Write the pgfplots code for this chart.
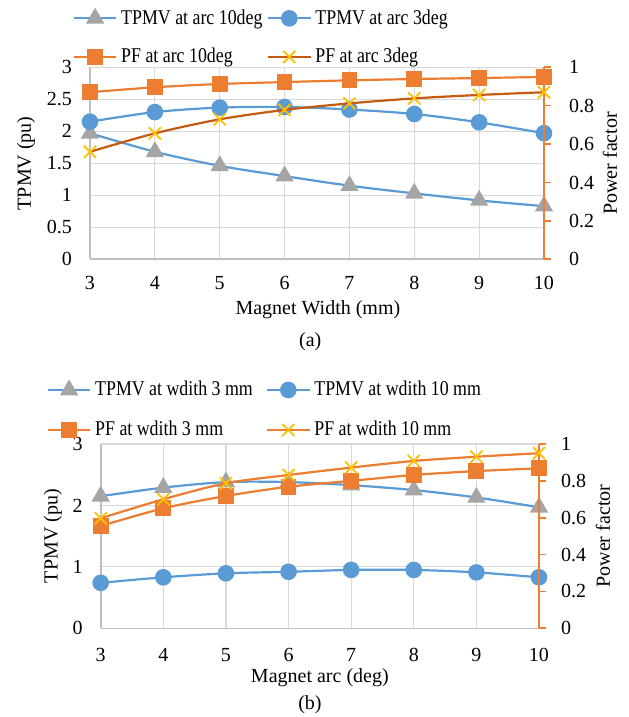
\documentclass[border=0pt]{standalone}
\usepackage{fontspec}
\setmainfont{Liberation Serif}
\newfontfamily\legfont{Liberation Serif}[FakeStretch=0.85]
\usepackage{pgfplots}
\pgfplotsset{compat=1.18}

\definecolor{xblue}{RGB}{91,155,213}
\definecolor{xorange}{RGB}{237,125,49}
\definecolor{xdkorange}{RGB}{197,90,17}
\definecolor{xgray}{RGB}{165,165,165}
\definecolor{xyellow}{RGB}{255,192,0}
\definecolor{gridc}{RGB}{217,217,217}
\definecolor{axc}{RGB}{191,191,191}

\pgfplotsset{
  base/.style={
    scale only axis, xmin=3, xmax=10, xtick={3,...,10},
    clip mode=individual,
    /pgf/number format/assume math mode=true,
    legend cell align=left,
    legend image code/.code={\draw[mark repeat=2,mark phase=2]
      plot coordinates {(0pt,0pt) (10.5pt,0pt) (21pt,0pt)};},
    legend style={draw=none, fill=none, legend columns=2, inner sep=0pt,
      outer sep=0pt, anchor=west, font=\legfont\fontsize{10.5}{12}\selectfont,
      nodes={inner sep=2pt}},
  },
  leftax/.style={base,
    axis lines*=left, axis line style={axc, line width=0.8pt, -},
    xmajorgrids, ymajorgrids, grid style={gridc, line width=0.6pt},
    major tick length=0pt,
    ymin=0, ymax=3,
    ylabel={TPMV (pu)},
  },
  rightax/.style={base,
    axis y line*=right, axis x line=none,
    y axis line style={xorange, line width=0.9pt, -},
    ytick style={xorange, line width=0.8pt}, tick align=outside,
    major tick length=3.5pt,
    ymin=0, ymax=1, ytick={0,0.2,...,1},
    ylabel={Power factor},
  },
  tpmv/.style={xblue, line width=1.1pt, smooth},
  pf/.style={xorange, line width=1.1pt, smooth},
}

\begin{document}
\begin{tikzpicture}
\useasboundingbox (0,0) rectangle (314pt,358.5pt);

% (a)
\begin{axis}[leftax, at={(45pt,228.85pt)}, anchor=south west,
  width=227pt, height=96pt, ytick={0,0.5,...,3},
  xticklabel style={yshift=-5pt}, yticklabel style={xshift=-5.5pt},
  xlabel={Magnet Width (mm)},
  xlabel style={at={(axis description cs:0.502,-0.264)}, anchor=center},
  ylabel style={at={(axis description cs:-0.141,0.5)}, rotate=0, anchor=center},
  legend style={at={(-0.0374,1.255)}}]
\addplot[tpmv, mark=triangle*, mark size=4.2pt, mark options={xgray, fill=xgray}]
  coordinates {(3,1.97)(4,1.68)(5,1.46)(6,1.30)(7,1.15)(8,1.03)(9,0.92)(10,0.83)};
\addlegendentry{\makebox[71pt][l]{TPMV at arc 10deg}}
\addplot[tpmv, mark=*, mark size=3.6pt, mark options={xblue, fill=xblue}]
  coordinates {(3,2.15)(4,2.30)(5,2.37)(6,2.38)(7,2.34)(8,2.27)(9,2.14)(10,1.97)};
\addlegendentry{TPMV at arc 3deg}
\node at (axis description cs:0.485,-0.431) {(a)};
\end{axis}
\begin{axis}[rightax, at={(45pt,228.85pt)}, anchor=south west,
  width=227pt, height=96pt,
  yticklabel style={xshift=5.5pt},
  ylabel style={at={(axis description cs:1.145,0.5)}, rotate=0, anchor=center},
  legend style={at={(-0.0374,1.054)}}]
\addplot[pf, mark=square*, mark size=3.4pt, mark options={xorange, fill=xorange}]
  coordinates {(3,0.87)(4,0.896)(5,0.913)(6,0.923)(7,0.932)(8,0.939)(9,0.944)(10,0.95)};
\addlegendentry{\makebox[71pt][l]{PF at arc 10deg}}
\addplot[pf, xdkorange, mark=x, mark size=4.3pt, mark options={xyellow, line width=0.9pt}]
  coordinates {(3,0.56)(4,0.656)(5,0.729)(6,0.778)(7,0.812)(8,0.838)(9,0.856)(10,0.87)};
\addlegendentry{PF at arc 3deg}
\end{axis}

% (b)
\begin{axis}[leftax, at={(50.35pt,44.35pt)}, anchor=south west,
  width=219.15pt, height=92.15pt, ytick={0,1,2,3},
  xticklabel style={yshift=-6.5pt}, yticklabel style={xshift=-5.5pt},
  xlabel={Magnet arc (deg)},
  xlabel style={at={(axis description cs:0.5,-0.270)}, anchor=center},
  ylabel style={at={(axis description cs:-0.109,0.5)}, rotate=0, anchor=center},
  legend style={at={(-0.1225,1.293)}}]
\addplot[tpmv, mark=triangle*, mark size=4.2pt, mark options={xgray, fill=xgray}]
  coordinates {(3,2.15)(4,2.29)(5,2.38)(6,2.38)(7,2.33)(8,2.25)(9,2.13)(10,1.97)};
\addlegendentry{\makebox[83.5pt][l]{TPMV at wdith 3 mm}}
\addplot[tpmv, mark=*, mark size=3.6pt, mark options={xblue, fill=xblue}]
  coordinates {(3,0.74)(4,0.83)(5,0.895)(6,0.92)(7,0.95)(8,0.95)(9,0.91)(10,0.83)};
\addlegendentry{TPMV at wdith 10 mm}
\node at (axis description cs:0.4775,-0.415) {(b)};
\end{axis}
\begin{axis}[rightax, at={(50.35pt,44.35pt)}, anchor=south west,
  width=219.15pt, height=92.15pt,
  yticklabel style={xshift=4pt},
  ylabel style={at={(axis description cs:1.146,0.5)}, rotate=0, anchor=center},
  legend style={at={(-0.1225,1.076)}}]
\addplot[pf, mark=square*, mark size=3.4pt, mark options={xorange, fill=xorange}]
  coordinates {(3,0.555)(4,0.651)(5,0.718)(6,0.768)(7,0.80)(8,0.832)(9,0.853)(10,0.868)};
\addlegendentry{\makebox[83.5pt][l]{PF at wdith 3 mm}}
\addplot[pf, mark=x, mark size=4.3pt, mark options={xyellow, line width=0.9pt}]
  coordinates {(3,0.597)(4,0.70)(5,0.787)(6,0.832)(7,0.872)(8,0.908)(9,0.931)(10,0.95)};
\addlegendentry{PF at wdith 10 mm}
\end{axis}
\end{tikzpicture}
\end{document}
